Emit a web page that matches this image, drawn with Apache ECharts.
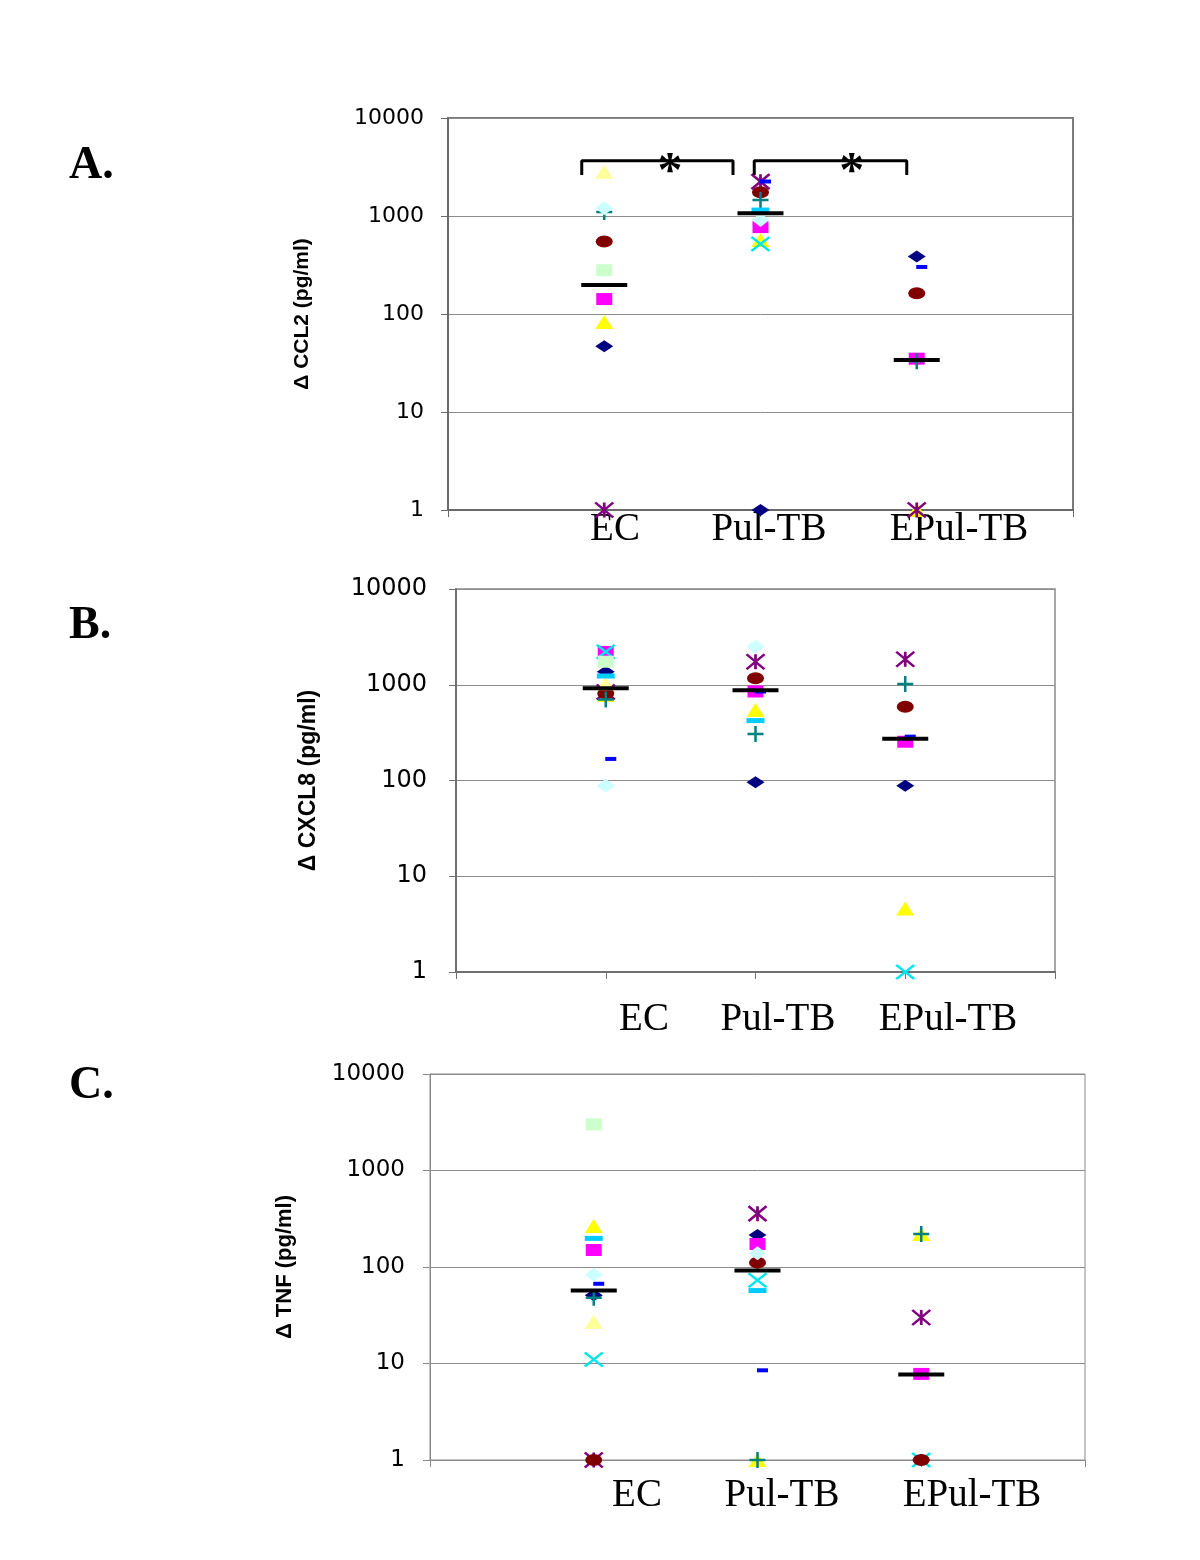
<!DOCTYPE html>
<html><head><meta charset="utf-8">
<script src="https://cdn.jsdelivr.net/npm/echarts@6/dist/echarts.min.js"></script>
<style>html,body{margin:0;padding:0;background:#fff}#c{width:1200px;height:1560px}</style>
</head><body><div id="c"></div>
<script>
// ---------- data ----------
const groups = ['EC', 'Pul-TB', 'EPul-TB'];
const yTicks = [1, 10, 100, 1000, 10000];
const panelLetters = ['A.', 'B.', 'C.'];
const yNames = ['\u0394 CCL2 (pg/ml)', '\u0394 CXCL8 (pg/ml)', '\u0394 TNF (pg/ml)'];

// Panel A : CCL2  (values per group EC, Pul-TB, EPul-TB)
const ccl2NavyDiamond = [47, 1, 385];
const ccl2MagentaSquare = [142, 770, 35];
const ccl2YellowTriangle = [83, 570, 1];
const ccl2CyanX = [null, 518, null];
const ccl2PurpleStar = [1, 2240, 1];
const ccl2DarkRedCircle = [550, 1745, 163];
const ccl2TealPlus = [1100, 1460, 33];
const ccl2BlueDash = [null, 2250, 302];
const ccl2LightCyanDiamond = [1200, 910, null];
const ccl2LightGreenSquare = [280, null, null];
const ccl2LightYellowTriangle = [2830, null, null];
const ccl2SkyBlueDash = [null, 1150, null];
const ccl2Mean = [198, 1065, 34];

// Panel B : CXCL8
const cxcl8NavyDiamond = [1370, 96, 88];
const cxcl8MagentaSquare = [2200, 850, 254];
const cxcl8YellowTriangle = [780, 545, 4.6];
const cxcl8CyanX = [2210, null, 1];
const cxcl8PurpleStar = [840, 1740, 1845];
const cxcl8DarkRedCircle = [810, 1167, 590];
const cxcl8TealPlus = [700, 306, 1018];
const cxcl8BlueDash = [168, 850, 287];
const cxcl8LightCyanDiamond = [88, 2500, null];
const cxcl8LightGreenSquare = [1740, null, null];
const cxcl8LightYellowTriangle = [1036, null, null];
const cxcl8SkyBlueDash = [1234, 422, null];
const cxcl8Mean = [918, 875, 273];

// Panel C : TNF
const tnfNavyDiamond = [51, 215, 1];
const tnfMagentaSquare = [150, 173, 7.8];
const tnfYellowTriangle = [266, 1, 220];
const tnfCyanX = [11, 73, 1];
const tnfPurpleStar = [1, 357, 30];
const tnfDarkRedCircle = [1, 111, 1];
const tnfTealPlus = [48, 1, 220];
const tnfBlueDash = [67, 8.5, null];
const tnfLightCyanDiamond = [83, 139, null];
const tnfLightGreenSquare = [3000, null, null];
const tnfLightYellowTriangle = [27, null, null];
const tnfSkyBlueDash = [198, 57, null];
const tnfMean = [57, 92, 7.7];

// significance brackets on panel A (data coordinates)
const sigBracket1 = [[0.856, 2618], [0.856, 3664], [1.824, 3664], [1.824, 2618]];
const sigBracket2 = [[1.960, 2618], [1.960, 3664], [2.936, 3664], [2.936, 2618]];
const sigStars = [[1.42, 3664], [2.584, 3664]];

// ---------- styles ----------
const markerStyles = {
  navyDiamond: {symbol: 'diamond', size: [18, 12], fill: '#000080'},
  magentaSquare: {symbol: 'rect', size: [16, 12], fill: '#FF00FF'},
  yellowTriangle: {symbol: 'triangle', size: [18, 14], fill: '#FFFF00'},
  cyanX: {symbol: 'path://M0,0L18,14M18,0L0,14', size: [18, 14], stroke: '#00E5EE'},
  purpleStar: {symbol: 'path://M0,0L18,16M18,0L0,16M9,0L9,16', size: [18, 15], stroke: '#800080'},
  darkRedCircle: {symbol: 'path://M0,5.5A8.5,5.5 0 1 1 17,5.5A8.5,5.5 0 1 1 0,5.5Z', size: [17, 12], fill: '#800000'},
  tealPlus: {symbol: 'path://M0,8L16,8M8,0L8,16', size: [16, 16], stroke: '#008080'},
  blueDash: {symbol: 'rect', size: [11, 4], fill: '#0000FF', offset: [5, 0]},
  lightCyanDiamond: {symbol: 'diamond', size: [18, 14], fill: '#CCFFFF'},
  lightGreenSquare: {symbol: 'rect', size: [16, 12], fill: '#CCFFCC'},
  lightYellowTriangle: {symbol: 'triangle', size: [18, 14], fill: '#FFFF99'},
  skyBlueDash: {symbol: 'rect', size: [18, 5], fill: '#00CCFF'}
};

const panels = [
  {values: {navyDiamond: ccl2NavyDiamond, magentaSquare: ccl2MagentaSquare, yellowTriangle: ccl2YellowTriangle, cyanX: ccl2CyanX,
    purpleStar: ccl2PurpleStar, darkRedCircle: ccl2DarkRedCircle, tealPlus: ccl2TealPlus, blueDash: ccl2BlueDash,
    lightCyanDiamond: ccl2LightCyanDiamond, lightGreenSquare: ccl2LightGreenSquare, lightYellowTriangle: ccl2LightYellowTriangle, skyBlueDash: ccl2SkyBlueDash},
   mean: ccl2Mean},
  {values: {navyDiamond: cxcl8NavyDiamond, magentaSquare: cxcl8MagentaSquare, yellowTriangle: cxcl8YellowTriangle, cyanX: cxcl8CyanX,
    purpleStar: cxcl8PurpleStar, darkRedCircle: cxcl8DarkRedCircle, tealPlus: cxcl8TealPlus, blueDash: cxcl8BlueDash,
    lightCyanDiamond: cxcl8LightCyanDiamond, lightGreenSquare: cxcl8LightGreenSquare, lightYellowTriangle: cxcl8LightYellowTriangle, skyBlueDash: cxcl8SkyBlueDash},
   mean: cxcl8Mean},
  {values: {navyDiamond: tnfNavyDiamond, magentaSquare: tnfMagentaSquare, yellowTriangle: tnfYellowTriangle, cyanX: tnfCyanX,
    purpleStar: tnfPurpleStar, darkRedCircle: tnfDarkRedCircle, tealPlus: tnfTealPlus, blueDash: tnfBlueDash,
    lightCyanDiamond: tnfLightCyanDiamond, lightGreenSquare: tnfLightGreenSquare, lightYellowTriangle: tnfLightYellowTriangle, skyBlueDash: tnfSkyBlueDash},
   mean: tnfMean}
];

// layout per panel
const gridsLayout = [
  {left: 448, top: 118, width: 625, height: 392, border: 2, borderColor: '#7a7a7a', axisColor: '#6a6a6a', axisW: 2, fs: 22, margin: 24, nameGap: 135, nameFs: 21},
  {left: 456, top: 589, width: 599, height: 383, border: 1.5, borderColor: '#8a8a8a', axisColor: '#707070', axisW: 2, fs: 24, margin: 29, nameGap: 136, nameFs: 23},
  {left: 430, top: 1074, width: 655, height: 386, border: 1, borderColor: '#8a8a8a', axisColor: '#8a8a8a', axisW: 1, fs: 23, margin: 25, nameGap: 134, nameFs: 22}
];
const catLabelPos = [
  {y: 530, x: [615, 769, 959]},
  {y: 1020, x: [644, 778, 948]},
  {y: 1496, x: [637, 782, 972]}
];
const letterPos = [{x: 69, y: 166}, {x: 69, y: 626}, {x: 69, y: 1086}];

const grid = [], xAxis = [], yAxis = [], series = [], graphic = [];
gridsLayout.forEach((g, i) => {
  grid.push({left: g.left, top: g.top, width: g.width, height: g.height, show: true,
    borderColor: g.borderColor, borderWidth: g.border, backgroundColor: '#fff'});
  xAxis.push({gridIndex: i, type: 'value', min: 0, max: 4, interval: 1,
    axisLine: {show: true, onZero: false, lineStyle: {color: g.axisColor, width: g.axisW}},
    axisTick: {show: true, length: 7, lineStyle: {color: g.axisColor}},
    axisLabel: {show: false}, splitLine: {show: false}});
  yAxis.push({gridIndex: i, type: 'log', logBase: 10, min: yTicks[0], max: yTicks[yTicks.length - 1],
    name: yNames[i], nameLocation: 'middle', nameGap: g.nameGap,
    nameTextStyle: {fontFamily: 'Liberation Sans, Arial', fontWeight: 'bold', fontSize: g.nameFs, color: '#000'},
    axisLine: {show: true, lineStyle: {color: g.axisColor, width: g.axisW}},
    axisTick: {show: true, length: 7, lineStyle: {color: g.axisColor}},
    axisLabel: {margin: g.margin, fontFamily: 'DejaVu Sans', fontSize: g.fs, color: '#000',
      formatter: v => String(Math.round(v))},
    splitLine: {show: true, lineStyle: {color: '#8c8c8c', width: 1}},
    minorTick: {show: false}});

  const p = panels[i];
  Object.keys(markerStyles).forEach(key => {
    const st = markerStyles[key];
    const data = [];
    p.values[key].forEach((v, j) => { if (v != null) data.push([j + 1, v]); });
    const itemStyle = st.stroke
      ? {color: 'rgba(0,0,0,0)', borderColor: st.stroke, borderWidth: 2.5, opacity: 1}
      : {color: st.fill, opacity: 1};
    series.push({type: 'scatter', xAxisIndex: i, yAxisIndex: i, data: data,
      symbol: st.symbol, symbolSize: st.size, symbolOffset: st.offset || [0, 0],
      itemStyle: itemStyle, silent: true, animation: false, z: 3});
  });
  series.push({type: 'scatter', xAxisIndex: i, yAxisIndex: i,
    data: p.mean.map((v, j) => [j + 1, v]),
    symbol: 'rect', symbolSize: [46, 4], itemStyle: {color: '#000', opacity: 1}, silent: true, animation: false, z: 4});

  // category labels
  groups.forEach((name, j) => {
    graphic.push({type: 'text', x: catLabelPos[i].x[j], y: catLabelPos[i].y,
      style: {text: name, fill: '#000', font: '39px "Liberation Serif", "Times New Roman", serif',
        textAlign: 'center', textVerticalAlign: 'middle'}});
  });
  graphic.push({type: 'text', x: letterPos[i].x, y: letterPos[i].y,
    style: {text: panelLetters[i], fill: '#000', font: 'bold 46px "Liberation Serif", "Times New Roman", serif',
      textAlign: 'left', textVerticalAlign: 'middle'}});
});

// significance annotations on panel A
[sigBracket1, sigBracket2].forEach(b => {
  series.push({type: 'line', xAxisIndex: 0, yAxisIndex: 0, data: b, symbol: 'none',
    lineStyle: {color: '#000', width: 3, opacity: 1}, silent: true, animation: false, z: 5});
});
series.push({type: 'scatter', xAxisIndex: 0, yAxisIndex: 0, data: sigStars, symbolSize: 1,
  itemStyle: {color: '#000', opacity: 1},
  silent: true, animation: false, z: 6,
  label: {show: true, position: 'inside', formatter: '*', offset: [0, 12], color: '#000', opacity: 1,
    fontFamily: 'Liberation Serif', fontWeight: 'bold', fontSize: 50}});

const chart = echarts.init(document.getElementById('c'), null, {renderer: 'canvas'});
chart.setOption({backgroundColor: '#fff', animation: false, grid, xAxis, yAxis, series, graphic});
</script>
</body></html>
